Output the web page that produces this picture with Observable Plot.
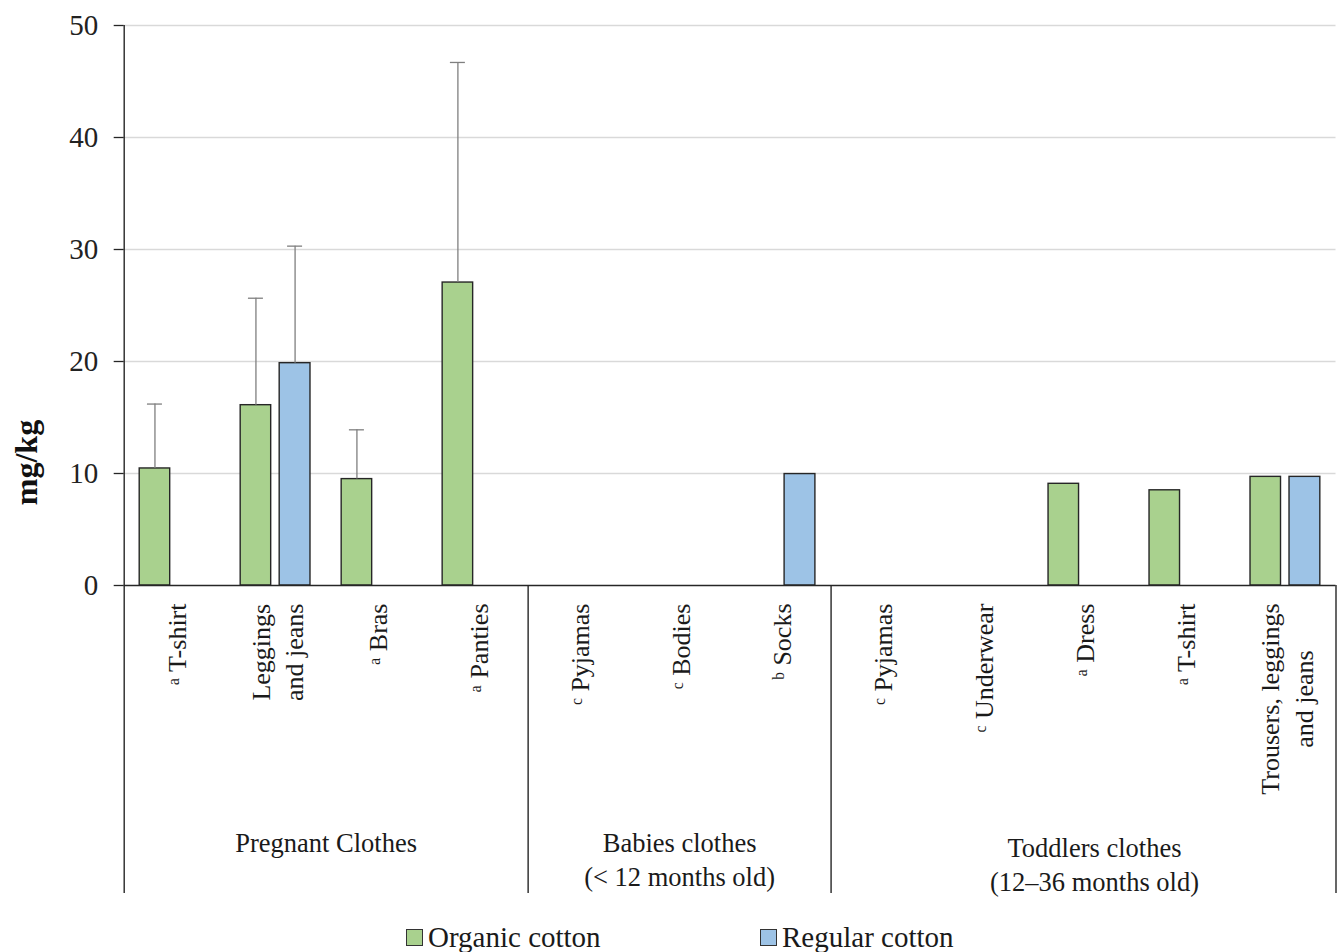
<!DOCTYPE html>
<html>
<head>
<meta charset="utf-8">
<script src="https://cdn.jsdelivr.net/npm/d3@7"></script>
<script src="https://cdn.jsdelivr.net/npm/@observablehq/plot@0.6"></script>
<style>
  body { margin: 0; background: #fff; }
  #wrap { position: relative; width: 1337px; height: 952px; font-family: "Liberation Serif", serif; }
  #legend { position: absolute; left: 0; top: 922px; width: 1337px; height: 30px; font-family: "Liberation Serif", serif; font-size: 29px; color: #1a1a1a; }
  .lg { position: absolute; top: 0; display: flex; align-items: center; height: 30px; }
  .sw { width: 17px; height: 17px; border: 1.3px solid #333; margin-right: 5px; box-sizing: border-box; }
</style>
</head>
<body>
<div id="wrap"><div id="legend"></div></div>
<script>
// ---- data ----
const groupNames = ["Pregnant Clothes", "Babies clothes\n(< 12 months old)", "Toddlers clothes\n(12–36 months old)"];
const itemGroup  = [0, 0, 0, 0, 1, 1, 1, 2, 2, 2, 2, 2];
const itemLabels = ["T-shirt", "Leggings\nand jeans", "Bras", "Panties", "Pyjamas", "Bodies", "Socks",
                    "Pyjamas", "Underwear", "Dress", "T-shirt", "Trousers, leggings\nand jeans"];
const itemNotes  = ["a", "", "a", "a", "c", "c", "b", "c", "c", "a", "a", ""];
const seriesNames = ["Organic cotton", "Regular cotton"];
const organicMean = [10.45, 16.1, 9.5, 27.05, null, null, null, null, null, 9.08, 8.5, 9.7];
const organicSD   = [5.75, 9.55, 4.4, 19.65, null, null, null, null, null, null, null, null];
const regularMean = [null, 19.85, null, null, null, null, 9.95, null, null, null, null, 9.7];
const regularSD   = [null, 10.45, null, null, null, null, null, null, null, null, null, null];
const yTicks = [0, 10, 20, 30, 40, 50];
const yLabel = "mg/kg";

// ---- build tables ----
const idx = itemLabels.map((_, i) => i);
const supMap = {a: "\u1D43", b: "\u1D47", c: "\u1D9C"};
const items = idx.map(i => ({i, text: itemNotes[i] ? supMap[itemNotes[i]] + " " + itemLabels[i] : itemLabels[i]}));
const org = idx.filter(i => organicMean[i] != null).map(i => ({i, v: organicMean[i]}));
const reg = idx.filter(i => regularMean[i] != null).map(i => ({i, v: regularMean[i]}));
const orgErr = idx.filter(i => organicSD[i] != null).map(i => ({i, v: organicMean[i], hi: organicMean[i] + organicSD[i]}));
const regErr = idx.filter(i => regularSD[i] != null).map(i => ({i, v: regularMean[i], hi: regularMean[i] + regularSD[i]}));
const groupInfo = groupNames.map((name, g) => {
  const members = idx.filter(i => itemGroup[i] === g);
  return {name, first: members[0], last: members[members.length - 1], count: members.length};
});

// ---- layout ----
const W = 1337, H = 905;
const mL = 123.7, mR = 1.5, mT = 25, mB = H - 585;
const bw = (W - mL - mR) / idx.length;
const green = "#a9d18e", blue = "#9dc3e6", edge = "#262626", errC = "#7f7f7f";
const font = "Liberation Serif";

const marks = [
  Plot.gridY({ticks: yTicks.filter(t => t > 0), stroke: "#d9d9d9", strokeOpacity: 1, strokeWidth: 1.6}),
  // bars
  Plot.barY(org, {x: "i", y: "v", fill: green, stroke: edge, strokeWidth: 1.4, insetLeft: 15.5, insetRight: bw - 46}),
  Plot.barY(reg, {x: "i", y: "v", fill: blue, stroke: edge, strokeWidth: 1.4, insetLeft: 54.5, insetRight: bw - 85.3}),
  // error bars
  Plot.ruleX(orgErr, {x: "i", y1: "v", y2: "hi", dx: 30.75 - bw / 2, stroke: errC, strokeWidth: 1.3}),
  Plot.ruleX(regErr, {x: "i", y1: "v", y2: "hi", dx: 69.9 - bw / 2, stroke: errC, strokeWidth: 1.3}),
  Plot.tickY(orgErr, {x: "i", y: "hi", insetLeft: 23.25, insetRight: bw - 38.25, stroke: errC, strokeWidth: 1.3}),
  Plot.tickY(regErr, {x: "i", y: "hi", insetLeft: 62.4, insetRight: bw - 77.4, stroke: errC, strokeWidth: 1.3}),
  // baseline
  Plot.ruleY([0], {stroke: edge, strokeWidth: 1.4}),
  // y axis line extended + group separators
  Plot.ruleX([0], {x: d => d, dx: -bw / 2, stroke: edge, strokeWidth: 1.4, insetBottom: -308}),
  Plot.ruleX(groupInfo.slice(1), {x: "first", dx: -bw / 2, stroke: edge, strokeWidth: 1.4, insetTop: 560, insetBottom: -308}),
  Plot.ruleX(groupInfo.slice(-1), {x: "last", dx: bw / 2, stroke: edge, strokeWidth: 1.4, insetTop: 560, insetBottom: -308}),
  // y axis
  Plot.axisY({ticks: yTicks, tickSize: 10, tickPadding: 16, fontSize: 29, fontFamily: font, fill: "#222", stroke: edge, strokeWidth: 1.3, label: null}),
  Plot.text([yLabel], {frameAnchor: "left", rotate: -90, textAnchor: "middle", dx: -97.7, dy: 157, fontSize: 32, fontWeight: "bold", fontFamily: font, fill: "#111"}),
  // category labels
  Plot.text(items, {x: "i", y: () => 0, text: "text", rotate: -90, textAnchor: "end", dy: 18, fontSize: 26, lineHeight: 1.3, fontFamily: font, fill: "#1a1a1a"}),
  // group labels
  ...groupInfo.map((g, k) => Plot.text([g], {x: "first", y: () => 0, text: "name", dx: (g.count - 1) / 2 * bw + (k === 2 ? 11 : 0), dy: k === 2 ? 248 : 243, lineAnchor: "top", fontSize: 26.5, lineHeight: 1.27, fontFamily: font, fill: "#1a1a1a"}))
];

const chart = Plot.plot({
  width: W, height: H,
  marginLeft: mL, marginRight: mR, marginTop: mT, marginBottom: mB,
  x: {type: "band", domain: idx, padding: 0, round: false, axis: null},
  y: {domain: [0, 50], axis: null},
  style: {fontFamily: font, background: "#fff", overflow: "visible"},
  marks
});
const wrap = document.getElementById("wrap");
wrap.insertBefore(chart, wrap.firstChild);

// center multi-line rotated category labels relative to their longest line
chart.querySelectorAll("text").forEach(t => {
  const tr = t.getAttribute("transform") || "";
  const spans = t.querySelectorAll("tspan");
  if (spans.length > 1 && tr.includes("rotate")) {
    let max = 0;
    spans.forEach(s => { max = Math.max(max, s.getComputedTextLength()); });
    t.setAttribute("text-anchor", "middle");
    t.style.textAnchor = "middle";
    spans.forEach(s => { s.setAttribute("x", -max / 2); s.setAttribute("text-anchor", "middle"); });
  }
});

// legend
const legend = document.getElementById("legend");
const lgLeft = [406, 760];
seriesNames.forEach((name, k) => {
  const d = document.createElement("div");
  d.className = "lg";
  d.style.left = lgLeft[k] + "px";
  const sw = document.createElement("div");
  sw.className = "sw";
  sw.style.background = k === 0 ? green : blue;
  d.appendChild(sw);
  const s = document.createElement("span");
  s.textContent = name;
  d.appendChild(s);
  legend.appendChild(d);
});
</script>
</body>
</html>
